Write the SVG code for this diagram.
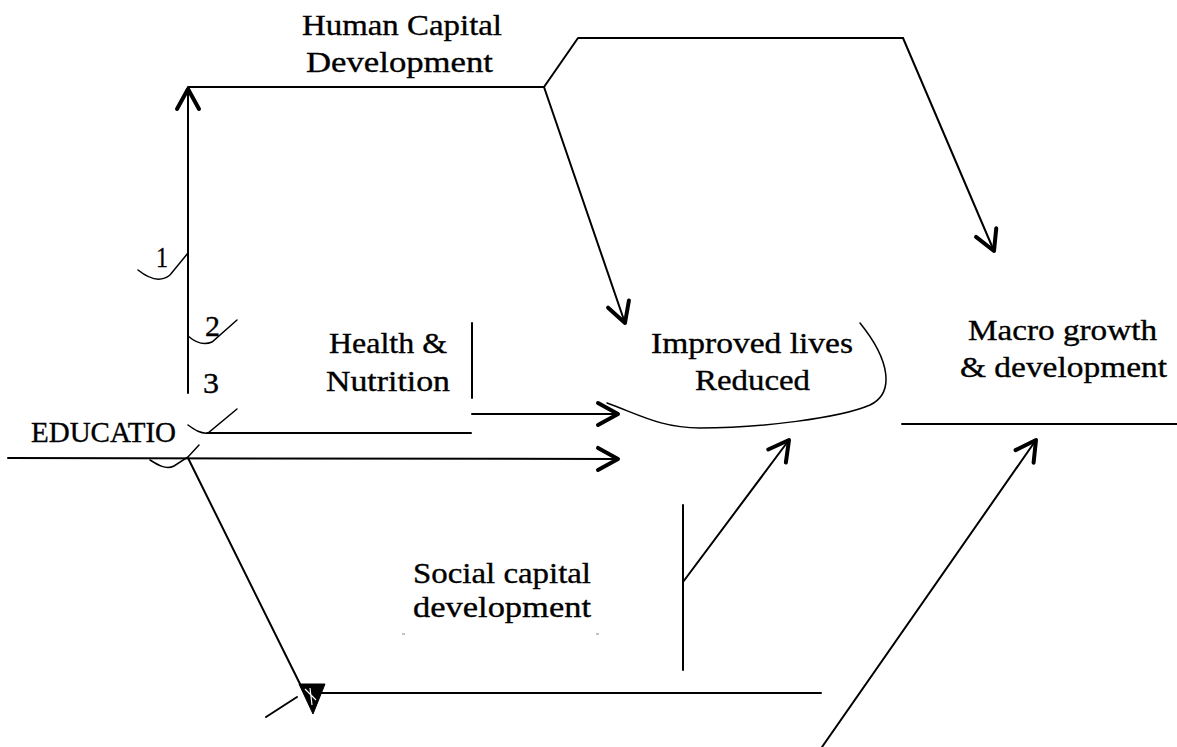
<svg xmlns="http://www.w3.org/2000/svg" width="1177" height="747" viewBox="0 0 1177 747">
<style>
text { font-family: "Liberation Serif", "Times New Roman", serif; font-size: 30px; fill: #000; stroke: #000; stroke-width: 0.35; }
.ln { fill: none; stroke: #000; stroke-width: 2; stroke-linecap: round; stroke-linejoin: round; }
.thin { fill: none; stroke: #000; stroke-width: 1.5; stroke-linecap: round; }
.arr { marker-end: url(#vhead); }
</style>
<defs>
<marker id="vhead" markerUnits="userSpaceOnUse" viewBox="-26 -16 30 32" refX="0" refY="0" markerWidth="30" markerHeight="32" orient="auto" overflow="visible">
<path d="M-20,-11 L0,0 L-20,11" fill="none" stroke="#000" stroke-width="4" stroke-linecap="round" stroke-linejoin="round"/>
</marker>
</defs>
<rect width="1177" height="747" fill="#fff"/>

<g id="connectors">
<line class="ln arr" x1="188" y1="393" x2="188" y2="89"/>
<polyline class="ln" points="188,87 544,87 578,38 903,38"/>
<line class="ln arr" x1="544" y1="87" x2="625" y2="323"/>
<line class="ln arr" x1="903" y1="38" x2="994" y2="251"/>
<line class="ln" x1="472" y1="323" x2="472" y2="398"/>
<line class="ln arr" x1="472" y1="414" x2="618" y2="414"/>
<line class="ln" x1="207" y1="433" x2="471" y2="433"/>
<line class="ln arr" x1="8" y1="458" x2="618" y2="459"/>
<line class="ln" x1="188" y1="458" x2="302" y2="688"/>
<polygon points="299,684 325,684 313,714" fill="#000" stroke="#000" stroke-width="1" stroke-linejoin="round"/>
<path d="M305,689 L316,700 M310,688 L312,705" stroke="#fff" stroke-width="1.2" fill="none"/>
<line class="ln" x1="266" y1="717" x2="297" y2="697"/>
<line class="ln" x1="318" y1="693" x2="821" y2="693"/>
<line class="ln" x1="683" y1="505" x2="683" y2="670"/>
<line class="ln arr" x1="683" y1="582" x2="789" y2="440"/>
<line class="ln" x1="902" y1="424" x2="1177" y2="424"/>
<line class="ln arr" x1="822" y1="747" x2="1036" y2="440"/>
<path class="thin" d="M138,270 C148,278 160,283 170,275 L188,253"/>
<path class="thin" d="M188,336 C195,342 203,346 212,342 L237,320"/>
<path class="thin" d="M188,425 C195,430 201,434 208,433 L237,409"/>
<path class="thin" d="M150,460 C158,465 166,470 174,466 L188,457 L199,445"/>
<line x1="402" y1="634" x2="405" y2="634" stroke="#888" stroke-width="1"/>
<line x1="596" y1="634" x2="599" y2="634" stroke="#888" stroke-width="1"/>
</g>

<g id="education">
<text x="31" y="442" textLength="145" lengthAdjust="spacingAndGlyphs">EDUCATIO</text>
</g>
<g id="labels-numbers">
<text x="156" y="267" textLength="12" lengthAdjust="spacingAndGlyphs">1</text>
<text x="205" y="336" textLength="15" lengthAdjust="spacingAndGlyphs">2</text>
<text x="203" y="393" textLength="16" lengthAdjust="spacingAndGlyphs">3</text>
</g>
<g id="human-capital">
<text x="302" y="35" textLength="200" lengthAdjust="spacingAndGlyphs">Human Capital</text>
<text x="306" y="72" textLength="187" lengthAdjust="spacingAndGlyphs">Development</text>
</g>
<g id="health">
<text x="329" y="353" textLength="118" lengthAdjust="spacingAndGlyphs">Health &amp;</text>
<text x="326" y="391" textLength="124" lengthAdjust="spacingAndGlyphs">Nutrition</text>
</g>
<g id="improved-lives">
<text x="651" y="353" textLength="202" lengthAdjust="spacingAndGlyphs">Improved lives</text>
<text x="695" y="390" textLength="115" lengthAdjust="spacingAndGlyphs">Reduced</text>
<path class="thin" d="M607,403 C640,415 662,428 700,428 C760,428 840,418 870,405 C895,393 890,360 860,323"/>
</g>
<g id="social-capital">
<text x="413" y="583" textLength="178" lengthAdjust="spacingAndGlyphs">Social capital</text>
<text x="413" y="617" textLength="178" lengthAdjust="spacingAndGlyphs">development</text>
</g>
<g id="macro">
<text x="968" y="340" textLength="189" lengthAdjust="spacingAndGlyphs">Macro growth</text>
<text x="960" y="377" textLength="207" lengthAdjust="spacingAndGlyphs">&amp; development</text>
</g>
</svg>
